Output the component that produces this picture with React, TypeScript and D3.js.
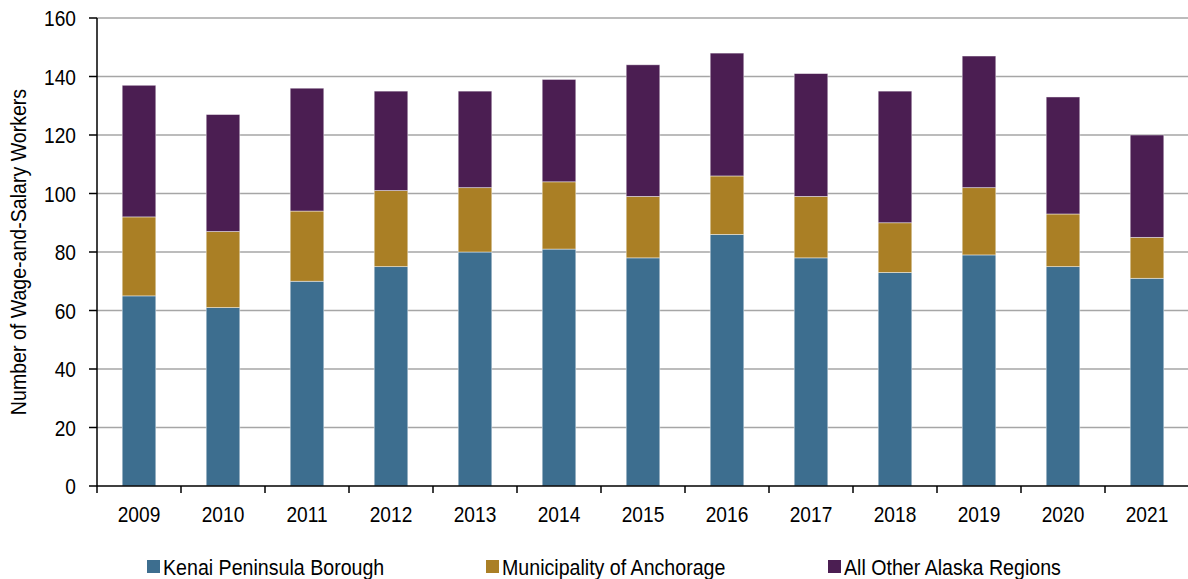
import * as d3 from "d3";
import * as React from "react";

const years = ["2009", "2010", "2011", "2012", "2013", "2014", "2015", "2016", "2017", "2018", "2019", "2020", "2021"];
const kenai = [65, 61, 70, 75, 80, 81, 78, 86, 78, 73, 79, 75, 71];
const anchorage = [27, 26, 24, 26, 22, 23, 21, 20, 21, 17, 23, 18, 14];
const otherRegions = [45, 40, 42, 34, 33, 35, 45, 42, 42, 45, 45, 40, 35];
const seriesNames = ["Kenai Peninsula Borough", "Municipality of Anchorage", "All Other Alaska Regions"];
const seriesColors = ["#3D6E8F", "#AA7F25", "#4B1E52"];
const yTicks = [0, 20, 40, 60, 80, 100, 120, 140, 160];
const yLabel = "Number of Wage-and-Salary Workers";

const W = 1188, H = 579;
const margin = { top: 18, left: 97, bottom: 486, right: 1189 };
// no narrow font installed, so squeeze Liberation Sans horizontally
const FONT = "'Liberation Sans', Arial, sans-serif";
const SQ = 0.85;

export default function App() {
    const ref = React.useRef<SVGSVGElement>(null);

    React.useEffect(() => {
        const svg = d3.select(ref.current!);
        svg.selectAll("*").remove();

        const rows = years.map((year, i) => ({ year, k0: kenai[i], k1: anchorage[i], k2: otherRegions[i] }));
        const stack = d3.stack<any>().keys(["k0", "k1", "k2"])(rows);

        const x = d3.scaleBand()
            .domain(years)
            .range([margin.left, margin.right])
            .paddingInner(0.6)
            .paddingOuter(0.3);
        const y = d3.scaleLinear().domain([0, 160]).range([margin.bottom, margin.top]);

        // gridlines
        svg.append("g")
            .selectAll("line")
            .data(yTicks.filter(t => t > 0))
            .join("line")
            .attr("x1", margin.left)
            .attr("x2", W)
            .attr("y1", d => y(d))
            .attr("y2", d => y(d))
            .attr("stroke", "#A6A6A6")
            .attr("stroke-width", 1.5);

        // bars
        svg.append("g")
            .selectAll("g")
            .data(stack)
            .join("g")
            .attr("fill", (_, i) => seriesColors[i])
            .selectAll("rect")
            .data(s => s)
            .join("rect")
            .attr("x", d => x(d.data.year)!)
            .attr("width", x.bandwidth())
            .attr("y", d => y(d[1]))
            .attr("height", d => y(d[0]) - y(d[1]))
            .attr("stroke", "#ffffff")
            .attr("stroke-opacity", 0.55)
            .attr("stroke-width", 0.8);

        // y axis
        const ya = svg.append("g").attr("transform", `translate(${margin.left},0)`);
        ya.append("line")
            .attr("x1", 0).attr("x2", 0)
            .attr("y1", margin.top).attr("y2", margin.bottom)
            .attr("stroke", "#000").attr("stroke-width", 1.5);
        const yt = ya.selectAll("g.tick").data(yTicks).join("g").attr("class", "tick")
            .attr("transform", d => `translate(0,${y(d)})`);
        yt.append("line").attr("x1", -8).attr("x2", 0).attr("stroke", "#000").attr("stroke-width", 1.5);
        yt.append("text")
            .attr("transform", `translate(-21,0) scale(${SQ},1)`)
            .attr("dy", "0.36em")
            .attr("text-anchor", "end")
            .attr("font-family", FONT)
            .attr("font-size", 22.5)
            .attr("fill", "#000")
            .text(d => d);

        // x axis
        const xa = svg.append("g");
        xa.append("line")
            .attr("x1", margin.left).attr("x2", W)
            .attr("y1", margin.bottom).attr("y2", margin.bottom)
            .attr("stroke", "#000").attr("stroke-width", 1.5);
        const gap = (x.step() - x.bandwidth()) / 2;
        const bounds = years.map(d => x(d)! - gap).concat([x(years[years.length - 1])! + x.bandwidth() + gap]);
        xa.selectAll("line.tick").data(bounds).join("line").attr("class", "tick")
            .attr("x1", d => d).attr("x2", d => d)
            .attr("y1", margin.bottom).attr("y2", margin.bottom + 7)
            .attr("stroke", "#000").attr("stroke-width", 1.5);
        xa.selectAll("text").data(years).join("text")
            .attr("transform", d => `translate(${x(d)! + x.bandwidth() / 2},522) scale(${SQ},1)`)
            .attr("text-anchor", "middle")
            .attr("font-family", FONT)
            .attr("font-size", 22.5)
            .attr("fill", "#000")
            .text(d => d);

        // y label
        svg.append("text")
            .attr("transform", `translate(26,${(margin.top + margin.bottom) / 2}) rotate(-90) scale(0.89,1)`)
            .attr("text-anchor", "middle")
            .attr("font-family", FONT)
            .attr("font-size", 22)
            .attr("fill", "#000")
            .text(yLabel);

        // legend
        const legendX = [147, 486, 828];
        const lg = svg.append("g").selectAll("g").data(seriesNames).join("g")
            .attr("transform", (_, i) => `translate(${legendX[i]},560)`);
        lg.append("rect").attr("width", 13).attr("height", 13).attr("fill", (_, i) => seriesColors[i]);
        lg.append("text")
            .attr("transform", `translate(16,15) scale(0.872,1)`)
            .attr("font-family", FONT)
            .attr("font-size", 22.5)
            .attr("fill", "#000")
            .text(d => d);
    }, []);

    return (
        <div style={{ position: "absolute", left: 0, top: 0 }}>
            <svg ref={ref} width={W} height={H} style={{ display: "block", background: "#fff" }} />
        </div>
    );
}
